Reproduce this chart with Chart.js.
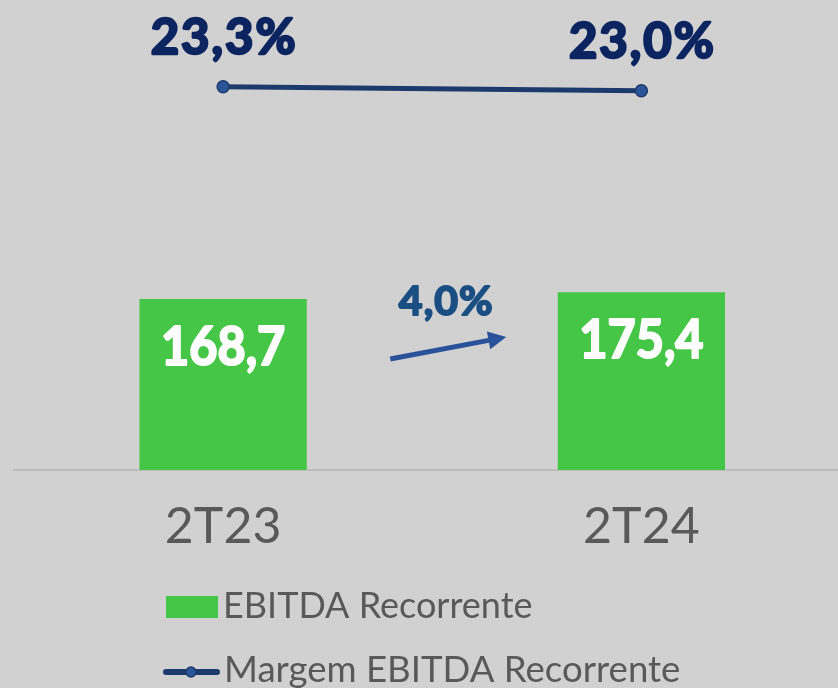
<!DOCTYPE html>
<html><head><meta charset="utf-8">
<style>
html,body{margin:0;padding:0;background:#d1d1d1;overflow:hidden;}
#wrap{position:absolute;left:0;top:0;width:858px;height:688px;}
</style>
<script src="https://cdn.jsdelivr.net/npm/chart.js@4.4.1/dist/chart.umd.min.js"></script>
</head><body>
<div id="wrap"><canvas id="c" width="858" height="688"></canvas></div>
<script>
const categories = ['2T23', '2T24'];
const ebitdaValues = [168.7, 175.4];
const marginValues = [23.3, 23.0];
const ebitdaLabels = ['168,7', '175,4'];
const marginLabels = ['23,3%', '23,0%'];
const growthLabel = '4,0%';
const seriesNames = ['EBITDA Recorrente', 'Margem EBITDA Recorrente'];

const GREEN = '#46c646';
const NAVY_LINE = '#1d3a6d';
const POINT_FILL = '#2c5597';
const TOP_TEXT = '#0c2560';
const GRAY_TEXT = '#595959';

function heavyText(ctx, txt, x, y, sx, stroke) {
  ctx.save();
  ctx.translate(x, y);
  ctx.scale(sx, 1);
  ctx.fillText(txt, 0, 0);
  if (stroke) {
    ctx.lineWidth = stroke;
    ctx.lineJoin = 'round';
    ctx.strokeStyle = ctx.fillStyle;
    ctx.strokeText(txt, 0, 0);
  }
  ctx.restore();
}

const labelPlugin = {
  id: 'customLabels',
  afterDatasetsDraw(chart) {
    const ctx = chart.ctx;
    const barMeta = chart.getDatasetMeta(0);
    const lineMeta = chart.getDatasetMeta(1);
    ctx.save();
    ctx.textAlign = 'center';
    ctx.textBaseline = 'alphabetic';
    ctx.fillStyle = '#ffffff';
    ctx.font = 'bold 54px Lato';
    ctx.letterSpacing = '0px';
    barMeta.data.forEach((el, i) => {
      heavyText(ctx, ebitdaLabels[i], el.x, el.y + 66, 0.9, 2.2);
    });
    ctx.fillStyle = TOP_TEXT;
    ctx.font = 'bold 49px Lato';
    ctx.letterSpacing = '2px';
    lineMeta.data.forEach((el, i) => {
      heavyText(ctx, marginLabels[i], el.x + 1, el.y - 33, 1, 2.5);
    });
    ctx.letterSpacing = '0px';
    const b0 = barMeta.data[0], b1 = barMeta.data[1];
    const mid = (b0.x + b1.x) / 2;
    const x0 = mid - 42, y0 = b0.y + 60;
    const x1 = mid + 74, y1 = b0.y + 38;
    const ang = Math.atan2(y1 - y0, x1 - x0);
    ctx.strokeStyle = '#2a529b';
    ctx.fillStyle = '#2a529b';
    ctx.lineWidth = 5;
    ctx.beginPath();
    ctx.moveTo(x0, y0);
    ctx.lineTo(x1 - 14 * Math.cos(ang), y1 - 14 * Math.sin(ang));
    ctx.stroke();
    ctx.beginPath();
    ctx.moveTo(x1, y1);
    ctx.lineTo(x1 - 18 * Math.cos(ang) + 9 * Math.sin(ang), y1 - 18 * Math.sin(ang) - 9 * Math.cos(ang));
    ctx.lineTo(x1 - 18 * Math.cos(ang) - 9 * Math.sin(ang), y1 - 18 * Math.sin(ang) + 9 * Math.cos(ang));
    ctx.closePath();
    ctx.fill();
    ctx.fillStyle = '#1b4f83';
    ctx.font = 'bold 41px Lato';
    ctx.letterSpacing = '1px';
    heavyText(ctx, growthLabel, mid + 14, b0.y + 16, 1, 2);
    ctx.restore();
  },
  afterDraw(chart) {
    const ctx = chart.ctx;
    ctx.save();
    ctx.textAlign = 'left';
    ctx.textBaseline = 'alphabetic';
    ctx.fillStyle = GREEN;
    ctx.fillRect(166, 596, 52, 22);
    ctx.fillStyle = GRAY_TEXT;
    ctx.font = '36px Lato';
    ctx.fillText(seriesNames[0], 223, 618);
    ctx.strokeStyle = NAVY_LINE;
    ctx.lineWidth = 6;
    ctx.lineCap = 'round';
    ctx.beginPath();
    ctx.moveTo(166, 672);
    ctx.lineTo(217, 672);
    ctx.stroke();
    ctx.beginPath();
    ctx.arc(191, 672, 5, 0, Math.PI * 2);
    ctx.fillStyle = POINT_FILL;
    ctx.fill();
    ctx.lineWidth = 1.5;
    ctx.stroke();
    ctx.fillStyle = GRAY_TEXT;
    ctx.font = '36.6px Lato';
    ctx.fillText(seriesNames[1], 224, 682);
    ctx.restore();
  }
};

const bgPlugin = {
  id: 'bg',
  beforeDraw(chart) {
    const ctx = chart.ctx;
    ctx.save();
    ctx.fillStyle = '#d1d1d1';
    ctx.fillRect(0, 0, chart.width, chart.height);
    ctx.restore();
  }
};

new Chart(document.getElementById('c'), {
  data: {
    labels: categories,
    datasets: [
      {
        type: 'bar',
        label: seriesNames[0],
        data: ebitdaValues,
        backgroundColor: GREEN,
        borderWidth: 0,
        yAxisID: 'y',
        barPercentage: 0.4,
        categoryPercentage: 1,
        order: 2
      },
      {
        type: 'line',
        label: seriesNames[1],
        data: marginValues,
        borderColor: NAVY_LINE,
        borderWidth: 5,
        pointRadius: 6,
        pointBackgroundColor: POINT_FILL,
        pointBorderColor: NAVY_LINE,
        pointBorderWidth: 1.5,
        yAxisID: 'y2',
        order: 1
      }
    ]
  },
  options: {
    responsive: false,
    animation: false,
    devicePixelRatio: 1,
    layout: { padding: { left: 14, right: 0, top: 14, bottom: 0 } },
    plugins: { legend: { display: false }, tooltip: { enabled: false } },
    scales: {
      x: {
        offset: true,
        grid: { display: false, drawTicks: false },
        border: { display: true, color: '#bdbdbd', width: 2 },
        ticks: { color: GRAY_TEXT, font: { family: 'Lato', size: 50 }, padding: 27 },
        afterFit: (s) => { s.height = 218; }
      },
      y: { display: false, min: 0, max: 450 },
      y2: { display: false, min: -5.45, max: 28.75, position: 'right' }
    }
  },
  plugins: [bgPlugin, labelPlugin]
});
</script>
</body></html>
